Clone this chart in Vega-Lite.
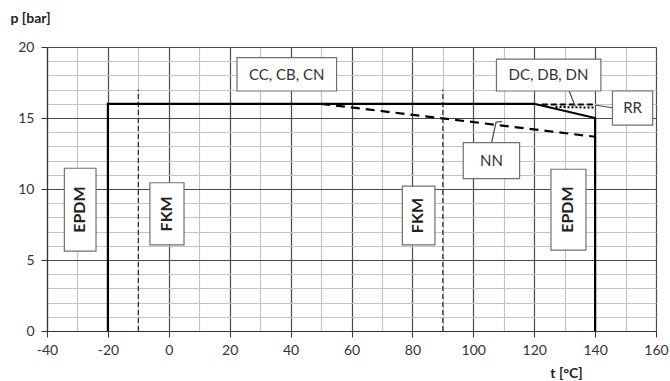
{
  "$schema": "https://vega.github.io/schema/vega-lite/v6.json",
  "width": 609,
  "height": 284,
  "autosize": {"type": "none"},
  "padding": {"left": 47, "top": 47, "right": 14, "bottom": 50},
  "background": "white",
  "config": {"view": {"stroke": null}, "font": "Lato"},
  "datasets": {
    "lines": [
      {"series": "main", "o": 1, "x": -20, "y": 0},
      {"series": "main", "o": 2, "x": -20, "y": 16},
      {"series": "main", "o": 3, "x": 120, "y": 16},
      {"series": "main", "o": 4, "x": 140, "y": 15},
      {"series": "main", "o": 5, "x": 140, "y": 0},
      {"series": "NN", "o": 1, "x": 50, "y": 16},
      {"series": "NN", "o": 2, "x": 140, "y": 13.68},
      {"series": "RR", "o": 1, "x": 122.5, "y": 15.95},
      {"series": "RR", "o": 2, "x": 140, "y": 15.95},
      {"series": "DC", "o": 1, "x": 127, "y": 15.78},
      {"series": "DC", "o": 2, "x": 140, "y": 15.73},
      {"series": "lead_DC", "o": 1, "x": 131.5, "y": 16.9},
      {"series": "lead_DC", "o": 2, "x": 133.5, "y": 15.8},
      {"series": "lead_RR", "o": 1, "x": 140.3, "y": 15.9},
      {"series": "lead_RR", "o": 2, "x": 145.7, "y": 15.72},
      {"series": "lead_NN", "o": 1, "x": 106, "y": 13.26},
      {"series": "lead_NN", "o": 2, "x": 107.5, "y": 14.72},
      {"series": "lead_NN", "o": 3, "x": 109.5, "y": 14.75}
    ],
    "fkm": [
      {"x": -10, "y": 0, "y2": 17},
      {"x": 90, "y": 0, "y2": 17}
    ],
    "boxes": [
      {"x": 22.4, "x2": 55.1, "y": 16.9, "y2": 19.25},
      {"x": 107.6, "x2": 141.9, "y": 16.9, "y2": 19.15},
      {"x": 145.7, "x2": 158.9, "y": 14.5, "y2": 16.9},
      {"x": 96.7, "x2": 115.2, "y": 10.73, "y2": 13.26},
      {"x": -34.3, "x2": -23.9, "y": 5.63, "y2": 11.46},
      {"x": -6.2, "x2": 5.0, "y": 6.06, "y2": 10.44},
      {"x": 76.7, "x2": 87.4, "y": 6.06, "y2": 10.2},
      {"x": 125.5, "x2": 137, "y": 5.7, "y2": 11.39}
    ],
    "hlabels": [
      {"label": "CC, CB, CN", "x": 38.7, "y": 18.05},
      {"label": "DC, DB, DN", "x": 124.7, "y": 18.0},
      {"label": "RR", "x": 152.3, "y": 15.7},
      {"label": "NN", "x": 106, "y": 12.0}
    ],
    "vlabels": [
      {"label": "EPDM", "x": -29.1, "y": 8.55},
      {"label": "FKM", "x": -0.6, "y": 8.25},
      {"label": "FKM", "x": 82, "y": 8.13},
      {"label": "EPDM", "x": 131.2, "y": 8.55}
    ]
  },
  "encoding": {
    "x": {
      "field": "x", "type": "quantitative",
      "scale": {"domain": [-40, 160], "nice": false, "zero": false},
      "axis": {
        "values": [-40, -30, -20, -10, 0, 10, 20, 30, 40, 50, 60, 70, 80, 90, 100, 110, 120, 130, 140, 150, 160],
        "labelExpr": "datum.value % 20 === 0 ? '' + datum.value : ''",
        "grid": true,
        "gridColor": {"condition": {"test": "datum.value % 20 === 0", "value": "#4a4a4a"}, "value": "#c4c4c4"},
        "gridWidth": 1.2,
        "tickColor": "#333",
        "tickOpacity": {"condition": {"test": "datum.value % 20 === 0", "value": 1}, "value": 0},
        "tickSize": 6,
        "domainColor": "#333",
        "domainWidth": 1.2,
        "labelFontSize": 14,
        "labelColor": "#333",
        "labelPadding": 6,
        "labelFlush": false,
        "labelOverlap": false,
        "title": "t [°C]",
        "titleFontWeight": "bold",
        "titleFontSize": 14,
        "titleColor": "#222",
        "titleAnchor": null,
        "titleX": 519,
        "titleY": 42,
        "titleAlign": "center",
        "titleBaseline": "middle"
      }
    },
    "y": {
      "field": "y", "type": "quantitative",
      "scale": {"domain": [0, 20], "nice": false, "zero": false},
      "axis": {
        "values": [0, 1, 2, 3, 4, 5, 6, 7, 8, 9, 10, 11, 12, 13, 14, 15, 16, 17, 18, 19, 20],
        "labelExpr": "datum.value % 5 === 0 ? '' + datum.value : ''",
        "grid": true,
        "gridColor": {"condition": {"test": "datum.value % 5 === 0", "value": "#4a4a4a"}, "value": "#c4c4c4"},
        "gridWidth": 1.2,
        "tickColor": "#333",
        "tickOpacity": {"condition": {"test": "datum.value % 5 === 0", "value": 1}, "value": 0},
        "tickSize": 6,
        "domainColor": "#333",
        "domainWidth": 1.2,
        "labelFontSize": 14,
        "labelColor": "#333",
        "labelPadding": 7,
        "labelFlush": false,
        "labelOverlap": false,
        "title": "p [bar]",
        "titleFontWeight": "bold",
        "titleFontSize": 14,
        "titleColor": "#222",
        "titleAngle": 0,
        "titleAnchor": null,
        "titleX": -37,
        "titleY": -29,
        "titleAlign": "left",
        "titleBaseline": "middle"
      }
    }
  },
  "layer": [
    {
      "data": {"name": "fkm"},
      "mark": {"type": "rule", "color": "#333", "strokeWidth": 1.3, "strokeDash": [5, 3]},
      "encoding": {"y2": {"field": "y2"}}
    },
    {
      "data": {"name": "lines"},
      "transform": [{"filter": "datum.series === 'main'"}],
      "mark": {"type": "line", "color": "#000", "strokeWidth": 2.2},
      "encoding": {"order": {"field": "o"}}
    },
    {
      "data": {"name": "lines"},
      "transform": [{"filter": "datum.series === 'NN'"}],
      "mark": {"type": "line", "color": "#000", "strokeWidth": 2.2, "strokeDash": [9, 6]},
      "encoding": {"order": {"field": "o"}}
    },
    {
      "data": {"name": "lines"},
      "transform": [{"filter": "datum.series === 'RR'"}],
      "mark": {"type": "line", "color": "#000", "strokeWidth": 2, "strokeDash": [6, 3]},
      "encoding": {"order": {"field": "o"}}
    },
    {
      "data": {"name": "lines"},
      "transform": [{"filter": "datum.series === 'DC'"}],
      "mark": {"type": "line", "color": "#000", "strokeWidth": 2, "strokeDash": [2, 2]},
      "encoding": {"order": {"field": "o"}}
    },
    {
      "data": {"name": "lines"},
      "transform": [{"filter": "indexof(datum.series, 'lead') === 0"}],
      "mark": {"type": "line", "color": "#444", "strokeWidth": 1.2},
      "encoding": {"order": {"field": "o"}, "detail": {"field": "series"}}
    },
    {
      "data": {"name": "boxes"},
      "mark": {"type": "rect", "fill": "white", "stroke": "#707070", "strokeWidth": 1.2},
      "encoding": {"x2": {"field": "x2"}, "y2": {"field": "y2"}}
    },
    {
      "data": {"name": "hlabels"},
      "mark": {"type": "text", "fontSize": 15, "color": "#333", "align": "center", "baseline": "middle"},
      "encoding": {"text": {"field": "label"}}
    },
    {
      "data": {"name": "vlabels"},
      "mark": {"type": "text", "fontSize": 16, "fontWeight": "bold", "color": "#222", "angle": 270, "align": "center", "baseline": "middle"},
      "encoding": {"text": {"field": "label"}}
    }
  ]
}
